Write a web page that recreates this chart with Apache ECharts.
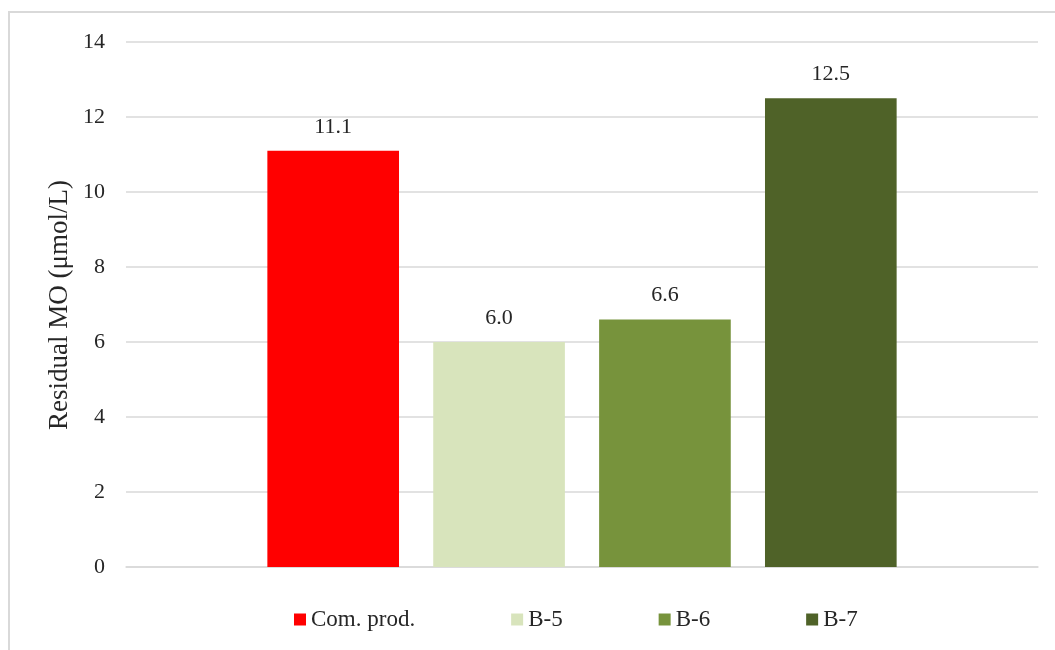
<!DOCTYPE html>
<html>
<head>
<meta charset="utf-8">
<script src="https://cdn.jsdelivr.net/npm/echarts@6/dist/echarts.min.js"></script>
<style>
  html, body { margin: 0; padding: 0; background: #fff; }
  #chart { width: 1055px; height: 650px; }
</style>
</head>
<body>
<div id="chart"></div>
<script>
// Residual MO after treatment, one bar per sample
const categories = [''];
const seriesNames = ['Com. prod.', 'B-5', 'B-6', 'B-7'];
const seriesValues = [[11.1], [6.0], [6.6], [12.5]];
const seriesColors = ['#FF0000', '#D8E4BC', '#77933C', '#4F6228'];
const yTicks = { min: 0, max: 14, interval: 2 };
const yTitle = 'Residual MO (μmol/L)';

const font = '"Liberation Serif", "Times New Roman", serif';
const textColor = '#262626';
const chart = echarts.init(document.getElementById('chart'));

const series = seriesNames.map((name, i) => ({
  name: name,
  type: 'bar',
  data: seriesValues[i],
  barGap: '26%',
  barCategoryGap: '31%',
  itemStyle: { color: seriesColors[i] },
  label: {
    show: true,
    position: 'top',
    distance: 13,
    formatter: p => p.value.toFixed(1),
    fontFamily: font,
    fontSize: 22,
    color: textColor
  }
}));

chart.setOption({
  animation: false,
  grid: { left: 126, right: 17, top: 42, bottom: 83, containLabel: false },
  legend: {
    data: seriesNames,
    top: 603,
    left: 289,
    icon: 'rect',
    itemWidth: 12,
    itemHeight: 12,
    itemGap: 96,
    textStyle: { fontFamily: font, fontSize: 23, color: textColor }
  },
  xAxis: {
    type: 'category',
    data: categories,
    axisLine: { lineStyle: { color: '#d9d9d9', width: 1.5 } },
    axisTick: { show: false },
    axisLabel: { show: false }
  },
  yAxis: {
    type: 'value',
    min: yTicks.min,
    max: yTicks.max,
    interval: yTicks.interval,
    axisLine: { show: false },
    axisTick: { show: false },
    axisLabel: { margin: 21, fontFamily: font, fontSize: 22, color: textColor },
    splitLine: { lineStyle: { color: '#d9d9d9', width: 1.5 } }
  },
  graphic: [
    {
      type: 'polyline',
      shape: { points: [[9, 650], [9, 12], [1055, 12]] },
      style: { stroke: '#d9d9d9', lineWidth: 2, fill: null },
      silent: true
    },
    {
      type: 'text',
      x: 60,
      y: 305,
      rotation: Math.PI / 2,
      style: {
        text: yTitle,
        fontFamily: font,
        fontSize: 27,
        fill: textColor,
        textAlign: 'center',
        textVerticalAlign: 'middle'
      }
    }
  ],
  series: series
});
</script>
</body>
</html>
